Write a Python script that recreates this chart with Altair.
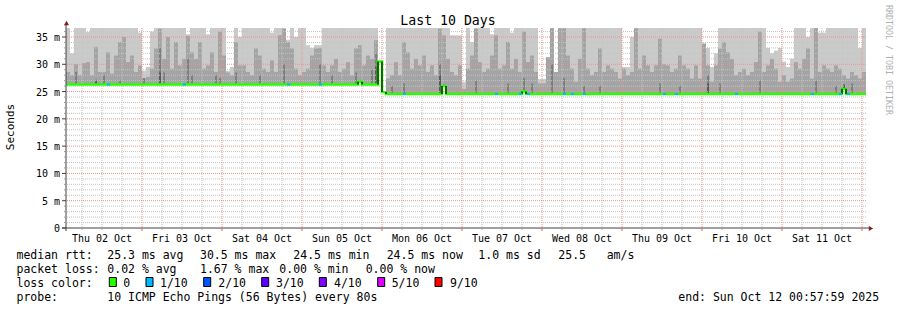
import json
import altair as alt
import pandas as pd

FONT = "DejaVu Sans Mono"

# ---------------- data ----------------
DAY_LABELS = ["Thu 02 Oct", "Fri 03 Oct", "Sat 04 Oct", "Sun 05 Oct", "Mon 06 Oct",
              "Tue 07 Oct", "Wed 08 Oct", "Thu 09 Oct", "Fri 10 Oct", "Sat 11 Oct"]
DAY_NOON_H = [12, 36, 60, 84, 108, 132, 156, 180, 204, 228]
Y_TICKS = [0, 5, 10, 15, 20, 25, 30, 35]
Y_TICK_LABELS = ["0", "5 m", "10 m", "15 m", "20 m", "25 m", "30 m", "35 m"]

START_H = 1.2     # hours after Thu 02 Oct 00:00 where the graph starts
STEP_H = 1.2      # one sample column
SPAN_H = 240.0
Y_MAX = 36.65

# top of the light smoke (ms); 40 = beyond the top of the graph
light_top = [
    # Thu 02
    40, 32.0, 40, 40, 40, 35.9, 40, 40, 40, 40, 40, 40, 40, 40, 40, 40, 40, 40, 35.8,
    # Fri 03
    28.8, 29.5, 36.0, 40, 40, 40, 40, 40, 40, 40, 40, 35.5, 40, 40, 40, 40, 35.5, 40, 40, 40,
    # Sat 04
    40, 28.8, 29.5, 40, 35.0, 40, 40, 40, 40, 40, 40, 40, 35.8, 40, 40, 40, 34.5, 40, 35.0, 40,
    # Sun 05
    40, 33.5, 33.0, 33.5, 33.5, 40, 40, 40, 40, 40, 40, 40, 40, 40, 40, 40, 40, 40, 40, None,
    # Mon 06
    None, 40, 40, 40, 40, 40, 40, 40, 40, 40, 40, 40, 40, 40, 40, 40, 40, 35.3, 35.3, 35.3,
    # Tue 07
    26.8, 40, 34.1, 40, 40, 40, 40, 35.5, 40, 40, 40, 40, 35.8, 40, 40, 40, 40, 40, 40, 27.3,
    # Wed 08
    27.3, 31.3, 40, 28.6, 40, 40, 40, 40, 40, 40, 40, 40, 40, 40, 40, 40, 40, 40, 40, 40,
    # Thu 09
    29.5, 29.5, 35.0, 40, 40, 40, 40, 40, 40, 40, 40, 40, 40, 40, 40, 40, 40, 40, 40, 40,
    # Fri 10
    33.8, 33.0, 29.5, 32.0, 40, 40, 40, 40, 40, 40, 40, 40, 40, 40, 40, 40, 33.0, 32.0, 32.5, 33.0,
    # Sat 11
    30.5, 29.5, 31.0, 40, 40, 40, 35.0, 40, 40, 35.8, 35.8, 40, 40, 40, 40, 40, 40, 40, 40, 33.0, 40,
]

# top of the medium smoke (ms)
mid_top = [
    28.6, 28.0, 30.0, 28.0, 30.2, 30.4, 28.0, 33.2, 28.6, 28.6, 32.2, 28.3, 31.6, 34.1, 35.0, 30.4, 31.6, 28.6, 29.8,
    27.4, 27.7, 29.2, 32.9, 36.5, 31.0, 35.0, 29.2, 34.1, 29.8, 31.0, 35.2, 32.2, 31.0, 34.1, 29.2, 29.8, 32.2, 28.6, 36.0,
    31.6, 28.5, 28.0, 34.1, 29.8, 29.8, 28.6, 28.0, 32.9, 31.6, 29.2, 28.6, 30.7, 28.6, 35.3, 36.5, 34.1, 32.9, 29.2, 28.0,
    28.6, 29.2, 31.6, 32.9, 33.0, 29.8, 28.6, 29.8, 31.0, 28.6, 29.2, 30.4, 28.0, 32.9, 33.5, 29.8, 31.6, 31.0, 34.4, None,
    None, 27.4, 28.0, 30.4, 28.0, 34.1, 32.2, 29.2, 31.0, 29.8, 31.6, 28.6, 29.8, 28.0, 36.5, 35.3, 31.0, 28.6, 28.0, 29.8,
    25.5, 29.2, 31.6, 36.5, 30.4, 28.6, 29.2, 31.6, 35.3, 29.2, 29.8, 34.1, 29.2, 31.0, 28.6, 36.0, 30.4, 31.6, 28.6, 26.5,
    26.5, 31.3, 36.6, 28.6, 36.6, 36.6, 31.6, 29.2, 26.8, 31.0, 36.6, 29.2, 28.0, 28.6, 32.9, 28.6, 29.8, 29.2, 28.6, 27.4,
    29.2, 28.0, 28.6, 36.6, 29.2, 31.6, 29.8, 28.6, 29.8, 34.7, 30.0, 29.8, 28.6, 29.2, 31.6, 29.8, 29.2, 27.4, 29.8, 27.4,
    33.8, 29.8, 26.8, 29.8, 32.9, 34.1, 32.2, 31.0, 28.0, 28.6, 29.2, 28.0, 28.6, 30.4, 36.0, 28.6, 29.8, 31.0, 29.2, 26.8,
    28.0, 26.8, 27.4, 30.4, 29.2, 31.0, 32.9, 27.4, 36.6, 28.6, 29.8, 29.2, 28.6, 29.8, 29.2, 28.0, 27.4, 28.6, 28.0, 27.4, 28.6,
]

# median rtt (ms) as (value, number of columns)
median_runs = [(26.3, 73), (26.8, 1), (26.3, 4), (30.5, 1), (24.9, 1), (24.55, 14), (26.0, 1),
               (24.55, 19), (25.0, 1), (24.55, 79), (25.5, 1), (24.55, 5)]

dark_bins = [2, 7, 9, 13, 19, 23, 24, 30, 31, 37, 38, 42, 48, 54, 63, 66, 72, 76, 77, 81,
             84, 93, 94, 102, 110, 114, 116, 121, 124, 129, 133, 148, 153, 160, 163, 173, 187, 192, 196]
dark_tops = [28.6, 27.2, 28.0, 27.0, 27.5, 33.0, 28.5, 31.0, 28.0, 28.0, 27.5, 28.5, 28.0, 30.0, 30.0, 28.0,
             28.5, 29.0, 32.0, 26.0, 26.5, 30.0, 26.3, 27.0, 26.5, 27.5, 26.5, 30.0, 27.5, 26.0, 26.0, 26.5,
             26.0, 28.0, 26.5, 27.0, 27.0, 26.0, 26.5]
darkest_bins = [7, 23, 77, 93, 160, 194]
darkest_tops = [26.9, 28.5, 29.5, 28.0, 26.5, 26.3]

loss1_bins = [10, 29, 55, 63, 84, 107, 113, 115, 124, 126, 129, 149, 152, 167, 186, 193, 195]

LOSS_LABELS = ["0", "1/10", "2/10", "3/10", "4/10", "5/10", "9/10"]
LOSS_COLORS = ["#26ff00", "#00b8ff", "#0059ff", "#5e00ff", "#7e00ff", "#dd00ff", "#ff0000"]

# ---------------- tables ----------------
median = []
for v, n in median_runs:
    median += [v] * n
NB = len(median)
t0 = [START_H + i * STEP_H for i in range(NB)]

smoke = pd.DataFrame({"t0": t0, "t1": [t + STEP_H for t in t0], "med": median,
                      "light": light_top[:NB], "mid": mid_top[:NB]})
light_df = smoke.dropna(subset=["light"])
mid_df = smoke.dropna(subset=["mid"])

dark_df = pd.DataFrame({"a": [t0[b] + 0.3 for b in dark_bins], "b": [t0[b] + 0.9 for b in dark_bins],
                        "top": dark_tops, "med": [median[b] for b in dark_bins]})
darkest_df = pd.DataFrame({"a": [t0[b] + 0.3 for b in darkest_bins], "b": [t0[b] + 0.9 for b in darkest_bins],
                           "top": darkest_tops, "med": [median[b] for b in darkest_bins]})

line_df = pd.DataFrame({"t": t0 + [START_H + SPAN_H], "med": median + [median[-1]]})
jumps = [(t0[i], median[i - 1], median[i]) for i in range(1, NB) if abs(median[i] - median[i - 1]) > 0.3]
jump_df = pd.DataFrame(jumps, columns=["t", "y1", "y2"])
loss_df = pd.DataFrame({"a": [t0[b] + 0.3 for b in loss1_bins], "b": [t0[b] + 1.2 for b in loss1_bins],
                        "hi": [median[b] + 0.19 for b in loss1_bins], "lo": [median[b] - 0.19 for b in loss1_bins]})

minor_v = pd.DataFrame({"h": [h for h in range(6, 241, 6) if h % 24]})
major_v = pd.DataFrame({"h": list(range(24, 241, 24))})
minor_h = pd.DataFrame({"v": [v for v in range(1, 37) if v % 5]})
major_h = pd.DataFrame({"v": list(range(5, 36, 5))})

xs = alt.Scale(domain=[START_H, START_H + SPAN_H], nice=False, zero=False)
ys = alt.Scale(domain=[0, Y_MAX], nice=False, zero=True)
ONE = pd.DataFrame({"k": [0]})
X0, Y0 = 66, 28  # plot origin in the page
TY = 1.5         # text baseline correction


def X(f):
    return alt.X(f, scale=xs, axis=None)


def Y(f):
    return alt.Y(f, scale=ys, axis=None)


layers = []

# smoke
layers.append(alt.Chart(light_df).mark_rect(color="#cacaca", clip=True).encode(
    x=X("t0:Q"), x2="t1:Q", y=Y("light:Q"), y2="med:Q"))
layers.append(alt.Chart(mid_df).mark_rect(color="#a4a4a4", clip=True).encode(
    x=X("t0:Q"), x2="t1:Q", y=Y("mid:Q"), y2="med:Q"))
layers.append(alt.Chart(dark_df).mark_rect(color="#7e7e7e", clip=True).encode(
    x=X("a:Q"), x2="b:Q", y=Y("top:Q"), y2="med:Q"))
layers.append(alt.Chart(darkest_df).mark_rect(color="#585858", clip=True).encode(
    x=X("a:Q"), x2="b:Q", y=Y("top:Q"), y2="med:Q"))

# grid
layers.append(alt.Chart(minor_h).mark_rule(color="#c4c4c4", strokeWidth=1, strokeDash=[1, 1]).encode(y=Y("v:Q")))
layers.append(alt.Chart(minor_v).mark_rule(color="#c4c4c4", strokeWidth=1, strokeDash=[1, 1]).encode(x=X("h:Q")))
layers.append(alt.Chart(major_h).mark_rule(color="#f09090", strokeWidth=1, strokeDash=[1, 1]).encode(y=Y("v:Q")))
layers.append(alt.Chart(major_v).mark_rule(color="#f09090", strokeWidth=1, strokeDash=[1, 1]).encode(x=X("h:Q")))

# median line
layers.append(alt.Chart(line_df).mark_line(interpolate="step-after", color="#26ff00", strokeWidth=2.4).encode(
    x=X("t:Q"), y=Y("med:Q")))
layers.append(alt.Chart(jump_df).mark_rule(color="#000000", strokeWidth=1.2).encode(
    x=X("t:Q"), y=Y("y1:Q"), y2="y2:Q"))
layers.append(alt.Chart(loss_df).mark_rect(color=LOSS_COLORS[1]).encode(
    x=X("a:Q"), x2="b:Q", y=Y("hi:Q"), y2="lo:Q"))

# axes
layers.append(alt.Chart(ONE).mark_rule(color="#404040", strokeWidth=1).encode(
    x=alt.value(0), y=alt.value(-4), y2=alt.value(203)))
layers.append(alt.Chart(ONE).mark_rule(color="#404040", strokeWidth=1).encode(
    x=alt.value(-4), x2=alt.value(803), y=alt.value(200)))
layers.append(alt.Chart(ONE).mark_point(shape="triangle-up", filled=True, size=26, color="#8b1a1a", opacity=1).encode(
    x=alt.value(0.5), y=alt.value(-5)))
layers.append(alt.Chart(ONE).mark_point(shape="triangle-right", filled=True, size=26, color="#8b1a1a", opacity=1).encode(
    x=alt.value(805), y=alt.value(200.5)))
layers.append(alt.Chart(minor_h).mark_rule(color="#999999").encode(
    y=Y("v:Q"), x=alt.value(-2), x2=alt.value(0)))
layers.append(alt.Chart(pd.DataFrame({"v": Y_TICKS})).mark_rule(color="#404040").encode(
    y=Y("v:Q"), x=alt.value(-4), x2=alt.value(0)))
layers.append(alt.Chart(major_v).mark_rule(color="#e06060").encode(
    x=X("h:Q"), y=alt.value(200), y2=alt.value(203)))
layers.append(alt.Chart(minor_v).mark_rule(color="#aaaaaa").encode(
    x=X("h:Q"), y=alt.value(200), y2=alt.value(202)))

# axis labels
layers.append(alt.Chart(pd.DataFrame({"h": DAY_NOON_H, "lab": DAY_LABELS})).mark_text(
    font=FONT, fontSize=10, align="center", baseline="middle", color="#000000").encode(
    x=X("h:Q"), y=alt.value(237.7 + TY - Y0), text="lab:N"))
layers.append(alt.Chart(pd.DataFrame({"v": Y_TICKS, "lab": Y_TICK_LABELS})).mark_text(
    font=FONT, fontSize=10, align="right", baseline="middle", color="#000000", dy=1).encode(
    x=alt.value(60 - X0), y=Y("v:Q"), text="lab:N"))


def txt(s, xa, ya, size=11.5, align="left", angle=0, color="#000000"):
    return alt.Chart(ONE).mark_text(text=s, font=FONT, fontSize=size, align=align, baseline="middle",
                                    angle=angle, color=color).encode(
        x=alt.value(xa - X0), y=alt.value(ya - Y0))


layers.append(txt("Last 10 Days", 448, 19 + TY, size=13.2, align="center"))
layers.append(txt("Seconds", 11, 127, size=11, align="center", angle=270))
layers.append(txt("RRDTOOL / TOBI OETIKER", 888, 60, size=8.3, align="center", angle=90, color="#b0b0b0"))

legend_rows = [
    (254, [("median rtt:", 16.5), ("25.3 ms avg", 107.3), ("30.5 ms max", 200), ("24.5 ms min", 293.3),
           ("24.5 ms now", 386.7), ("1.0 ms sd", 478.3), ("25.5", 558.3), ("am/s", 606.7)]),
    (268, [("packet loss:", 16.5), ("0.02 % avg", 107.3), ("1.67 % max", 200), ("0.00 % min", 279.3),
           ("0.00 % now", 365.7)]),
    (282, [("loss color:", 16.5)]),
    (296, [("probe:", 16.5), ("10 ICMP Echo Pings (56 Bytes) every 80s", 107.3),
           ("end: Sun Oct 12 00:57:59 2025", 678.3)]),
]
for ya, items in legend_rows:
    for s, xa in items:
        layers.append(txt(s, xa, ya + TY))

box_left = [109.3, 146.0, 203.7, 261.7, 319.3, 377.7, 435.0]
lab_left = [123.3, 160.0, 218.3, 276.0, 334.0, 391.7, 450.0]
for c, lab, bx, lx in zip(LOSS_COLORS, LOSS_LABELS, box_left, lab_left):
    layers.append(alt.Chart(ONE).mark_rect(fill=c, stroke="#000000", strokeWidth=1).encode(
        x=alt.value(bx - X0), x2=alt.value(bx + 7 - X0), y=alt.value(277.5 - Y0), y2=alt.value(286.5 - Y0)))
    layers.append(txt(lab, lx, 282 + TY))

chart = alt.layer(*layers).properties(
    width=800, height=200,
    padding={"left": 66, "top": 28, "right": 31, "bottom": 82},
    autosize="none",
).configure_view(stroke=None)

chart.save("out.html", embed_options={"renderer": "svg", "actions": False})
